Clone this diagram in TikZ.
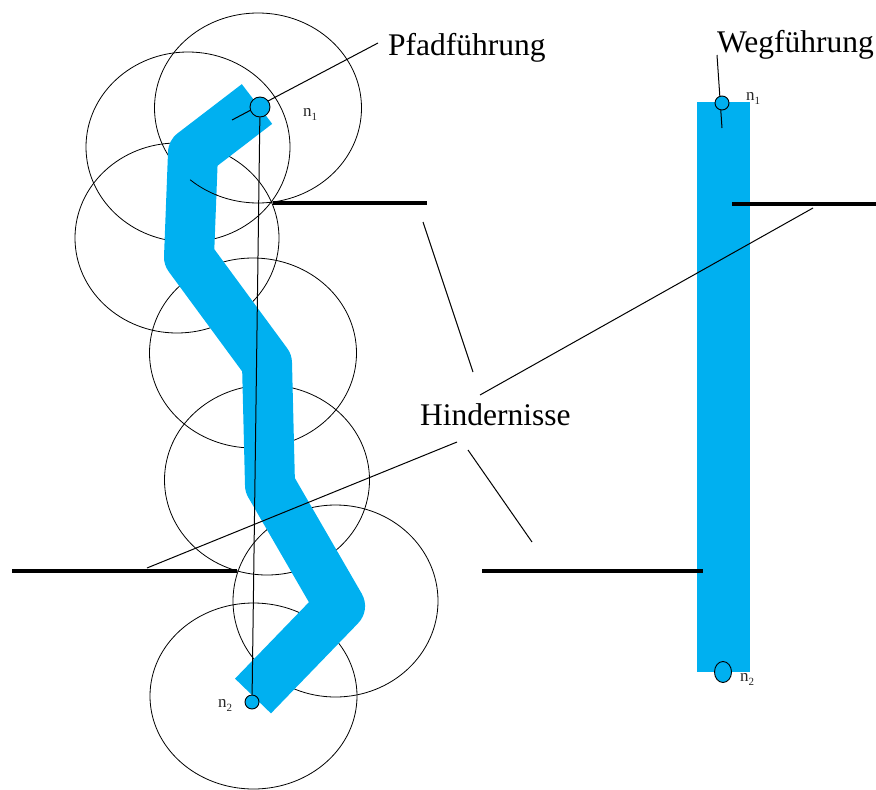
\documentclass[tikz,border=0pt]{standalone}
\usepackage{fontspec}
\setmainfont{Liberation Serif}
\usetikzlibrary{shapes.geometric}
\definecolor{pathblue}{RGB}{0,176,240}
\newcommand\wpname[1]{n\raisebox{-4.5pt}{\fontsize{11}{11}\selectfont #1}}
\begin{document}
\begin{tikzpicture}[x=1pt,y=-1pt,
  zone/.style={draw=black, line width=0.8pt},
  route/.style={draw=pathblue, line width=50pt, line join=round, line cap=butt},
  barrier/.style={draw=black, line width=4pt},
  leader/.style={draw=black, line width=1pt},
  waypoint/.style={draw=black, fill=pathblue, line width=0.9pt, inner sep=0pt},
  bigtext/.style={font=\fontsize{31.5}{36}\selectfont, inner sep=0pt, anchor=base west},
  nodetext/.style={font=\fontsize{17}{19}\selectfont, text=black!85, inner sep=0pt, anchor=base west},
]
\useasboundingbox (0,0) rectangle (876,790);

% clearance zones along the path
\draw[zone] (258,108) ellipse[x radius=103.5pt, y radius=95pt];
\draw[zone] (188,147) ellipse[x radius=102pt, y radius=95pt];
\draw[zone] (177,238) ellipse[x radius=102pt, y radius=95pt];
\draw[zone] (253,353) ellipse[x radius=103.5pt, y radius=95pt];
\draw[zone] (267,480) ellipse[x radius=102.5pt, y radius=95pt];
\draw[zone] (335.5,601) ellipse[x radius=102.5pt, y radius=96pt];
\draw[zone] (253.5,696) ellipse[x radius=103.5pt, y radius=93pt];

% winding path corridor
\draw[route] (257,104) -- (193,153) -- (189,257) -- (267,363) -- (270,485) -- (340,606) -- (253,696);
\draw[zone] plot[domain=113:131, samples=12] ({258+103.5*cos(\x)},{108+95*sin(\x)});

% straight route corridor
\fill[pathblue] (697,102) rectangle (750,672);

% obstacles
\draw[barrier] (273,203) -- (427,203);
\draw[barrier] (732,204) -- (876,204);
\draw[barrier] (12,571) -- (237,571);
\draw[barrier] (482,571) -- (703,571);

% labels
\node[bigtext] (pfad) at (388,55) {Pfadführung};
\node[bigtext] (weg) at (717,52) {Wegführung};
\node[bigtext] (hind) at (420,425) {Hindernisse};

% leader lines
\coordinate (pfadA) at (378,43);
\coordinate (pfadB) at (232,120);
\coordinate (wegA) at (717,55);
\coordinate (wegB) at (722,128);
\draw[leader] (pfadA) -- (pfadB);
\draw[leader] (wegA) -- (wegB);

\coordinate (h1a) at (473,372); \coordinate (h1b) at (423,222);
\coordinate (h2a) at (480,395); \coordinate (h2b) at (813,208);
\coordinate (h3a) at (457,442); \coordinate (h3b) at (147,568);
\coordinate (h4a) at (468,450); \coordinate (h4b) at (532,542);
\draw[leader] (h1a) -- (h1b);
\draw[leader] (h2a) -- (h2b);
\draw[leader] (h3a) -- (h3b);
\draw[leader] (h4a) -- (h4b);

% start and goal points
\node[waypoint, circle, minimum size=20pt] (n1) at (260,107) {};
\node[waypoint, circle, minimum size=14pt] (n2) at (252,702) {};
\draw[leader] (n1) -- (n2);
\node[waypoint, circle, minimum size=14pt] (m1) at (722,103) {};
\node[waypoint, ellipse, minimum width=17pt, minimum height=21pt] (m2) at (723,672) {};

\node[nodetext] (n1lab) at (303,116) {\wpname{1}};
\node[nodetext] (n2lab) at (218,707) {\wpname{2}};
\node[nodetext] (m1lab) at (746,100) {\wpname{1}};
\node[nodetext] (m2lab) at (740,681) {\wpname{2}};
\end{tikzpicture}
\end{document}
